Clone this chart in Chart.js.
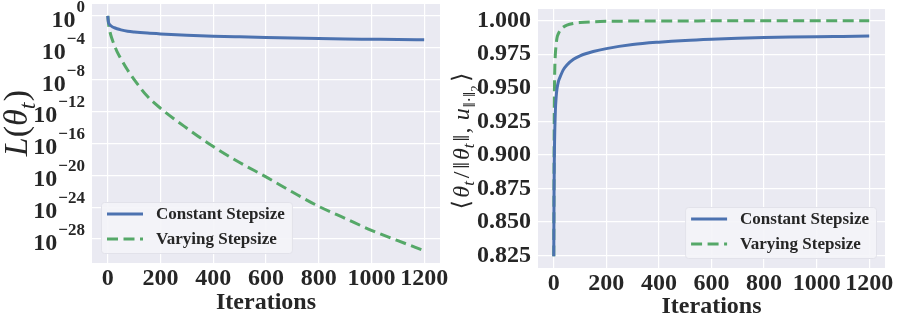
<!DOCTYPE html>
<html>
<head>
<meta charset="utf-8">
<script src="https://cdn.jsdelivr.net/npm/chart.js@4.4.1/dist/chart.umd.min.js"></script>
<style>
  html, body { margin: 0; padding: 0; background: #fff; }
  .wrap { position: relative; width: 900px; height: 326px; }
  .panel { position: absolute; top: 0; width: 450px; height: 326px; }
  #lossPanel { left: 0; }
  #alignPanel { left: 450px; }
</style>
</head>
<body>
<div class="wrap">
  <div class="panel" id="lossPanel"><canvas id="lossChart" width="450" height="326"></canvas></div>
  <div class="panel" id="alignPanel"><canvas id="alignChart" width="450" height="326"></canvas></div>
</div>
<script>
// values
const seriesLabels = ['Constant Stepsize', 'Varying Stepsize'];
const xTicks = [0, 200, 400, 600, 800, 1000, 1200];

// left panel: log10 of the loss
const lossIters = [0, 1, 2, 3, 5, 8, 12, 18, 25, 35, 50, 75, 100, 150, 200, 300, 400, 500, 600, 700, 800, 900, 1000, 1100, 1200];
const lossConstantExp = [0, -0.45, -0.7, -0.85, -1.02, -1.15, -1.27, -1.4, -1.5, -1.62, -1.76, -1.93, -2.03, -2.17, -2.27, -2.43, -2.55, -2.64, -2.72, -2.79, -2.85, -2.9, -2.94, -2.98, -3.01];
const lossVaryingExp = [0, -0.4, -0.75, -1.05, -1.5, -2.0, -2.5, -3.1, -3.7, -4.5, -5.4, -6.8, -8.0, -10.1, -11.6, -14.1, -16.4, -18.4, -20.2, -22.1, -23.9, -25.4, -26.9, -28.2, -29.45];
const lossTickExps = [0, -4, -8, -12, -16, -20, -24, -28];

// right panel: alignment with the max-margin direction
const alignIters = [0, 1, 2, 3, 4, 6, 9, 12, 18, 25, 35, 50, 75, 100, 150, 200, 300, 400, 500, 600, 700, 800, 900, 1000, 1100, 1200];
const alignConstant = [0.8245, 0.87, 0.895, 0.91, 0.92, 0.933, 0.943, 0.949, 0.955, 0.9585, 0.963, 0.967, 0.9712, 0.9738, 0.977, 0.9792, 0.9822, 0.984, 0.9853, 0.9862, 0.9869, 0.9874, 0.9878, 0.9881, 0.9883, 0.9885];
const alignVarying = [0.8245, 0.89, 0.935, 0.955, 0.965, 0.975, 0.982, 0.987, 0.9905, 0.993, 0.995, 0.9967, 0.998, 0.9986, 0.9992, 0.9995, 0.9997, 0.9998, 0.9998, 0.9999, 0.9999, 0.9999, 0.9999, 1.0, 1.0, 1.0];
const alignTicks = [0.825, 0.85, 0.875, 0.9, 0.925, 0.95, 0.975, 1.0];

const BLUE = '#4C72B0';
const GREEN = '#55A868';
const TEXT = '#262626';
const SERIF = '"Liberation Serif", "DejaVu Serif", serif';

// grey plot background like seaborn darkgrid
const plotBackground = {
  id: 'plotBackground',
  beforeDraw(chart) {
    const { ctx, chartArea: a } = chart;
    ctx.save();
    ctx.fillStyle = '#EAEAF2';
    ctx.fillRect(a.left, a.top, a.right - a.left, a.bottom - a.top);
    ctx.restore();
  }
};

// legend box inside the plot area
const boxLegend = {
  id: 'boxLegend',
  afterDraw(chart, args, opts) {
    const { ctx, chartArea: a } = chart;
    const sets = chart.data.datasets;
    ctx.save();
    ctx.font = 'bold 17px ' + SERIF;
    const textW = Math.max(...sets.map(d => ctx.measureText(d.label).width));
    const w = 6 + 36 + 13 + textW + 7;
    const h = 51;
    const x = opts.corner === 'right' ? a.right - 9 - w : a.left + 9;
    const y = a.bottom - 10 - h;
    ctx.beginPath();
    ctx.roundRect(x + 0.5, y + 0.5, w, h, 3);
    ctx.fillStyle = 'rgba(244,244,248,0.9)';
    ctx.fill();
    ctx.strokeStyle = '#E2E2EA';
    ctx.lineWidth = 1;
    ctx.stroke();
    sets.forEach((d, i) => {
      const ly = y + 12 + i * 25;
      ctx.beginPath();
      ctx.setLineDash(d.borderDash || []);
      ctx.strokeStyle = d.borderColor;
      ctx.lineWidth = 3;
      ctx.moveTo(x + 6, ly);
      ctx.lineTo(x + 42, ly);
      ctx.stroke();
      ctx.setLineDash([]);
      ctx.fillStyle = TEXT;
      ctx.textAlign = 'left';
      ctx.textBaseline = 'middle';
      ctx.fillText(d.label, x + 55, ly + 1);
    });
    ctx.restore();
  }
};

// 10^k tick labels with a raised exponent
const powerTicks = {
  id: 'powerTicks',
  afterDraw(chart) {
    const scale = chart.scales.y;
    const ctx = chart.ctx;
    const right = chart.chartArea.left - 7;
    ctx.save();
    ctx.fillStyle = TEXT;
    ctx.textAlign = 'right';
    ctx.textBaseline = 'alphabetic';
    scale.ticks.forEach(t => {
      const y = scale.getPixelForValue(t.value);
      const exp = Math.round(Math.log10(t.value));
      const expText = (exp < 0 ? '\u2212' : '') + Math.abs(exp);
      ctx.font = 'bold 17px ' + SERIF;
      ctx.fillText(expText, right, y - 4);
      const ew = ctx.measureText(expText).width;
      ctx.font = 'bold 24px ' + SERIF;
      ctx.fillText('10', right - ew - 1, y + 11);
    });
    ctx.restore();
  }
};

// rotated y-axis title with sub/superscripts
function drawRich(ctx, cx, cy, parts, size) {
  ctx.save();
  ctx.translate(cx, cy);
  ctx.rotate(-Math.PI / 2);
  ctx.fillStyle = TEXT;
  ctx.textAlign = 'left';
  ctx.textBaseline = 'alphabetic';
  const fontOf = p => (p.italic ? 'italic ' : '') + Math.round(size * (p.scale || 1)) + 'px ' + SERIF;
  let total = 0;
  const widths = parts.map(p => {
    ctx.font = fontOf(p);
    const w = ctx.measureText(p.t).width + (p.gap || 0) * size;
    total += w;
    return w;
  });
  let x = -total / 2;
  parts.forEach((p, i) => {
    ctx.font = fontOf(p);
    ctx.fillText(p.t, x, size * 0.33 + (p.dy || 0) * size);
    x += widths[i];
  });
  ctx.restore();
}

const yTitle = {
  id: 'yTitle',
  afterDraw(chart, args, opts) {
    drawRich(chart.ctx, opts.x, opts.y, opts.parts, opts.size);
  }
};

const tickFont = { family: SERIF, size: 24, weight: 'bold' };

function xScale(tickPad, titlePad, height) {
  return {
    type: 'linear',
    min: -60,
    max: 1260,
    afterBuildTicks: s => { s.ticks = xTicks.map(v => ({ value: v })); },
    grid: { color: '#FFFFFF', lineWidth: 1.2, drawTicks: false },
    border: { display: false },
    ticks: { callback: v => String(v), font: tickFont, color: TEXT, padding: tickPad, maxRotation: 0, autoSkip: false },
    title: { display: true, text: 'Iterations', font: tickFont, color: TEXT, padding: { top: 0, bottom: titlePad } },
    afterFit: s => { s.height = height; s.paddingLeft = 0; s.paddingRight = 0; }
  };
}

function lineSet(label, xs, ys, color, dash) {
  return {
    label: label,
    data: xs.map((x, i) => ({ x: x, y: ys[i] })),
    borderColor: color,
    borderWidth: 3,
    borderDash: dash,
    pointRadius: 0,
    fill: false,
    cubicInterpolationMode: 'monotone'
  };
}

// left: loss on log scale
new Chart(document.getElementById('lossChart'), {
  type: 'line',
  data: {
    datasets: [
      lineSet(seriesLabels[0], lossIters, lossConstantExp.map(e => 10 ** e), BLUE, []),
      lineSet(seriesLabels[1], lossIters, lossVaryingExp.map(e => 10 ** e), GREEN, [11, 5.5])
    ]
  },
  options: {
    responsive: false,
    animation: false,
    layout: { padding: { left: 0, right: 10, top: 4, bottom: 0 } },
    plugins: {
      legend: { display: false },
      tooltip: { enabled: false },
      boxLegend: { corner: 'left' },
      yTitle: {
        x: 16, y: 123, size: 34,
        parts: [
          { t: 'L', italic: true },
          { t: '(' },
          { t: '\u03B8', italic: true },
          { t: 't', italic: true, scale: 0.7, dy: 0.22, gap: 0.04 },
          { t: ')' }
        ]
      }
    },
    scales: {
      x: xScale(1, 9, 63),
      y: {
        type: 'logarithmic',
        min: 10 ** -31.0,
        max: 10 ** 1.48,
        afterBuildTicks: s => { s.ticks = lossTickExps.map(e => ({ value: 10 ** e })); },
        grid: { color: '#FFFFFF', lineWidth: 1.2, drawTicks: false },
        border: { display: false },
        ticks: { callback: () => '', autoSkip: false },
        afterFit: s => { s.width = 92; s.paddingTop = 0; s.paddingBottom = 0; }
      }
    }
  },
  plugins: [plotBackground, powerTicks, boxLegend, yTitle]
});

// right: alignment
new Chart(document.getElementById('alignChart'), {
  type: 'line',
  data: {
    datasets: [
      lineSet(seriesLabels[0], alignIters, alignConstant, BLUE, []),
      lineSet(seriesLabels[1], alignIters, alignVarying, GREEN, [11, 5.5])
    ]
  },
  options: {
    responsive: false,
    animation: false,
    layout: { padding: { left: 0, right: 15, top: 9, bottom: 0 } },
    plugins: {
      legend: { display: false },
      tooltip: { enabled: false },
      boxLegend: { corner: 'right' },
      yTitle: {
        x: 11, y: 141, size: 24,
        parts: [
          { t: '\u27E8', gap: 0.1 },
          { t: '\u03B8', italic: true },
          { t: 't', italic: true, scale: 0.7, dy: 0.22, gap: 0.12 },
          { t: '/', gap: 0.12 },
          { t: '\u2016', gap: 0.08 },
          { t: '\u03B8', italic: true },
          { t: 't', italic: true, scale: 0.7, dy: 0.22, gap: 0.08 },
          { t: '\u2016', gap: 0.06 },
          { t: ',', gap: 0.3 },
          { t: 'u', italic: true, gap: 0.04 },
          { t: '\u2016\u00B7\u2016', scale: 0.7, dy: 0.25, gap: 0.02 },
          { t: '2', scale: 0.5, dy: 0.4, gap: 0.15 },
          { t: '\u27E9' }
        ]
      }
    },
    scales: {
      x: xScale(1, 5, 58),
      y: {
        type: 'linear',
        min: 0.8158,
        max: 1.0087,
        afterBuildTicks: s => { s.ticks = alignTicks.map(v => ({ value: v })); },
        grid: { color: '#FFFFFF', lineWidth: 1.2, drawTicks: false },
        border: { display: false },
        ticks: { callback: v => v.toFixed(3), font: tickFont, color: TEXT, padding: 7, autoSkip: false },
        afterFit: s => { s.width = 88; s.paddingTop = 0; s.paddingBottom = 0; }
      }
    }
  },
  plugins: [plotBackground, boxLegend, yTitle]
});
</script>
</body>
</html>
